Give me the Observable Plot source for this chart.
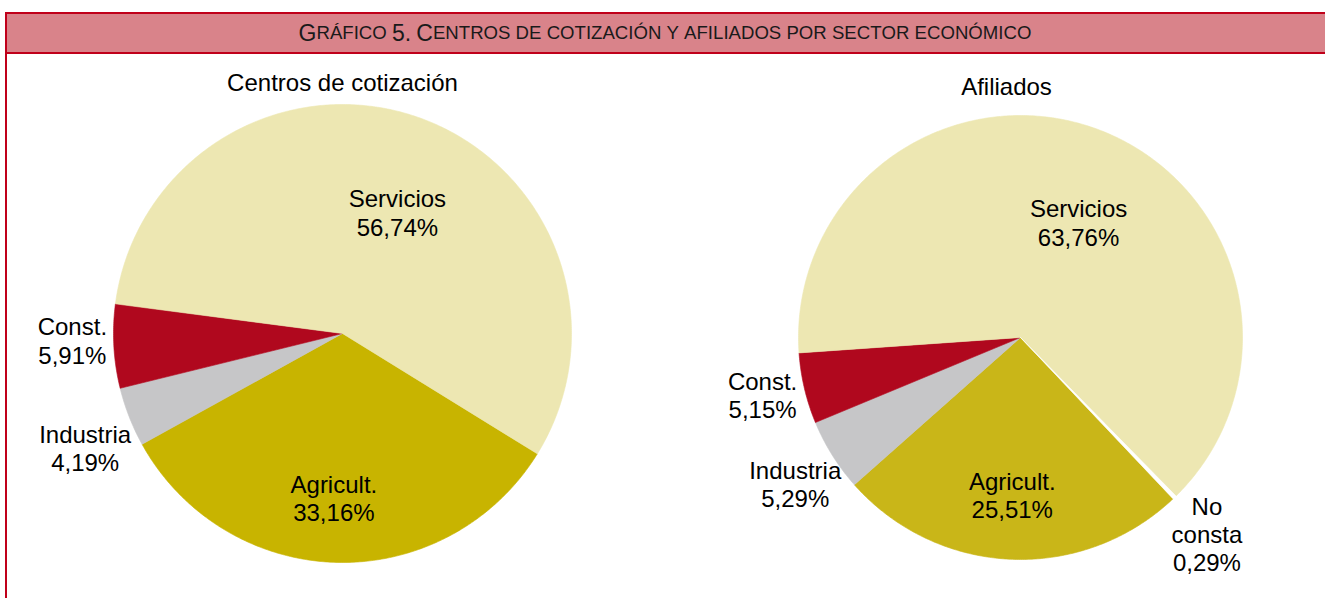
<!DOCTYPE html>
<html><head><meta charset="utf-8">
<script src="https://cdn.jsdelivr.net/npm/d3@7"></script>
<script src="https://cdn.jsdelivr.net/npm/@observablehq/plot@0.6"></script>
<style>
html,body{margin:0;padding:0;background:#fff;width:1325px;height:598px;overflow:hidden;font-family:"Liberation Sans",Arial,sans-serif;}
#frame{position:absolute;left:5px;top:12px;width:2px;height:586px;background:#c0001a;z-index:3;}
#header{position:absolute;left:5px;top:12px;width:1320px;height:38px;border-top:2px solid #c0001a;border-bottom:2px solid #c0001a;background:#d9838a;display:flex;align-items:center;justify-content:center;color:#1a1a1a;z-index:2;white-space:pre;}
#header .big{font-size:23px;}
#header .sm{font-size:18.6px;}
.pie{position:absolute;top:54px;}
</style>
</head><body>
<div id="header"></div>
<div id="frame"></div>
<div id="pie1" class="pie" style="left:0px"></div>
<div id="pie2" class="pie" style="left:680px"></div>
<script>
// ---- data ----
const tituloGrafico = "Gráfico 5. Centros de cotización y afiliados por sector económico";
const sectores  = ["Agricult.", "Industria", "Const.", "Servicios", "No consta"];
const etiquetas = ["Agricult.", "Industria", "Const.", "Servicios", "No\nconsta"];
const centros   = [33.16, 4.19, 5.91, 56.74, 0];
const afiliados = [25.51, 5.29, 5.15, 63.76, 0.29];
const titulos   = ["Centros de cotización", "Afiliados"];

// ---- style ----
const coloresCentros   = ["#c8b400", "#c6c6c8", "#b0081e", "#ede7b2", "#ffffff"];
const coloresAfiliados = ["#c9b618", "#c6c6c8", "#b0081e", "#ede7b2", "#ffffff"];

// ---- layout ----
const layout1 = {width: 680, height: 544, cx: 342, cy: 279, r: 229, startDeg: 121.7, titleX: 342, titleY: 29,
  labelPos: {"Agricult.": [183, 0.72], "Industria": [246, 1.23], "Const.": [268.5, 1.18], "Servicios": [24.4, 0.58]}};
const layout2 = {width: 645, height: 544, cx: 340, cy: 283, r: 222, startDeg: 136.6, titleX: 326, titleY: 33,
  labelPos: {"Agricult.": [183, 0.71], "Industria": [237, 1.21], "Const.": [257.5, 1.19], "Servicios": [26.8, 0.58], "No consta": [136.5, 1.22]}};

// header in small caps
const header = document.getElementById("header");
for (const ch of tituloGrafico) {
  const sp = document.createElement("span");
  if (ch !== ch.toUpperCase()) { sp.className = "sm"; sp.textContent = ch.toUpperCase(); }
  else if (ch === " ") { sp.className = "sm"; sp.textContent = ch; }
  else { sp.className = "big"; sp.textContent = ch; }
  header.appendChild(sp);
}

const fmt = v => v.toFixed(2).replace(".", ",") + "%";

function pieChart(values, colors, title, L) {
  const rows = sectores.map((s, i) => ({s, v: values[i], color: colors[i], label: etiquetas[i]})).filter(d => d.v > 0);
  const a0 = L.startDeg * Math.PI / 180;
  const arcs = d3.pie().sort(null).value(d => d.v).startAngle(a0).endAngle(a0 + 2 * Math.PI)(rows);
  const pts = [];
  for (const a of arcs) {
    const n = Math.max(2, Math.ceil((a.endAngle - a.startAngle) / (Math.PI / 360)));
    pts.push({s: a.data.s, color: a.data.color, x: 0, y: 0});
    for (let k = 0; k <= n; k++) {
      const t = a.startAngle + (a.endAngle - a.startAngle) * k / n;
      pts.push({s: a.data.s, color: a.data.color, x: Math.sin(t), y: Math.cos(t)});
    }
    pts.push({s: a.data.s, color: a.data.color, x: 0, y: 0});
  }
  const labels = rows.map(d => {
    const [deg, f] = L.labelPos[d.s];
    const t = deg * Math.PI / 180;
    return {x: f * Math.sin(t), y: f * Math.cos(t), text: d.label + "\n" + fmt(d.v)};
  });
  const titleRow = [{x: (L.titleX - L.cx) / L.r, y: (L.cy - L.titleY) / L.r, text: title}];
  return Plot.plot({
    width: L.width, height: L.height, margin: 0,
    style: {fontFamily: '"Liberation Sans", Arial, sans-serif', fontSize: "24px", background: "transparent", color: "#000"},
    x: {domain: [-L.cx / L.r, (L.width - L.cx) / L.r], axis: null},
    y: {domain: [-(L.height - L.cy) / L.r, L.cy / L.r], axis: null},
    marks: [
      Plot.line(pts, {x: "x", y: "y", z: "s", fill: "color", stroke: "color", strokeWidth: 0.6, curve: "linear"}),
      Plot.text(labels, {x: "x", y: "y", text: "text", fontSize: 24, lineHeight: 1.18, fill: "#000"}),
      Plot.text(titleRow, {x: "x", y: "y", text: "text", fontSize: 24, fill: "#000"})
    ]
  });
}

document.getElementById("pie1").appendChild(pieChart(centros, coloresCentros, titulos[0], layout1));
document.getElementById("pie2").appendChild(pieChart(afiliados, coloresAfiliados, titulos[1], layout2));
</script>
</body></html>
